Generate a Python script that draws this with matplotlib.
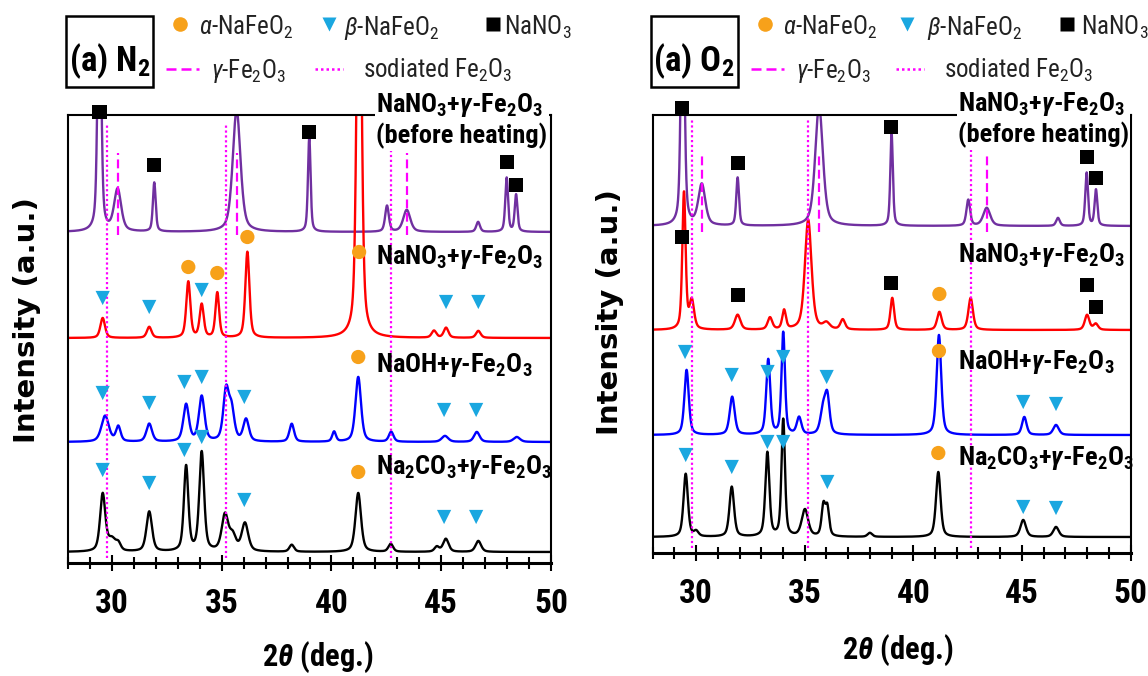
import numpy as np
import matplotlib.pyplot as plt
from matplotlib import font_manager
from matplotlib.patches import Rectangle
from matplotlib.ticker import MultipleLocator

# pick a narrow sans face if one is installed
fonts = font_manager.fontManager.ttflist
names = {f.name for f in fonts}
NARROW, STRETCH = 'Liberation Sans', 'normal'
for n in ['Liberation Sans Narrow', 'DejaVu Sans Condensed', 'Noto Sans Condensed',
          'Roboto Condensed', 'Open Sans Condensed']:
    if n in names:
        NARROW = n
        break
else:
    for n in ['Noto Sans', 'DejaVu Sans', 'Open Sans', 'Roboto']:
        if any(f.name == n and f.stretch == 'condensed' and f.weight in (700, 'bold') for f in fonts):
            NARROW, STRETCH = n, 'condensed'
            break

suffix = ':condensed' if STRETCH == 'condensed' else ''
plt.rcParams['font.family'] = [NARROW, 'DejaVu Sans']
plt.rcParams['font.stretch'] = STRETCH
plt.rcParams['mathtext.fontset'] = 'custom'
plt.rcParams['mathtext.rm'] = NARROW + suffix
plt.rcParams['mathtext.it'] = NARROW + ':italic' + suffix
plt.rcParams['mathtext.bf'] = NARROW + ':bold' + suffix
plt.rcParams['mathtext.bfit'] = NARROW + ':italic:bold' + suffix

# ---- data: peaks (2theta, height, fwhm), a.u. ----
two_theta = np.linspace(28, 50, 4401)

# (a) N2
n2_before = [(29.43, 300, 0.18), (30.26, 42, 0.38), (31.93, 49, 0.15), (35.68, 122, 0.42),
             (38.99, 95, 0.14), (42.53, 26, 0.2), (43.43, 22, 0.38), (46.68, 10, 0.2),
             (47.98, 54, 0.15), (48.41, 37, 0.15)]
n2_nano3 = [(29.58, 20, 0.25), (31.70, 11, 0.25), (33.48, 56, 0.22), (34.09, 33, 0.22),
            (34.80, 45, 0.2), (36.17, 86, 0.22), (41.26, 500, 0.24), (44.67, 7, 0.25),
            (45.22, 10, 0.25), (46.69, 7, 0.25)]
n2_naoh = [(29.69, 26, 0.4), (30.29, 15, 0.25), (31.70, 18, 0.3), (33.38, 37, 0.3),
           (34.09, 45, 0.3), (35.20, 50, 0.3), (35.45, 30, 0.3), (36.11, 22, 0.3),
           (38.19, 18, 0.25), (40.12, 10, 0.2), (41.22, 65, 0.3), (42.72, 10, 0.25),
           (45.17, 6, 0.35), (46.62, 10, 0.3), (48.44, 5, 0.35)]
n2_na2co3 = [(29.58, 57, 0.28), (30.00, 12, 0.45), (30.30, 6, 0.25), (31.70, 40, 0.3),
             (33.38, 85, 0.24), (34.09, 99, 0.26), (35.15, 36, 0.35), (35.50, 15, 0.35),
             (36.06, 28, 0.35), (38.19, 7, 0.25), (41.22, 59, 0.3), (42.70, 8, 0.25),
             (44.80, 5, 0.25), (45.21, 13, 0.3), (46.69, 11, 0.3)]
n2_offsets = [331, 225, 121, 11]

n2_squares = [(29.43, 451), (31.93, 398), (38.99, 431), (47.98, 401), (48.41, 378)]
n2_circles = [(33.48, 296), (34.80, 290), (36.17, 326), (41.26, 311), (41.22, 206), (41.22, 91)]
n2_triangles = [(29.58, 265), (31.70, 256), (34.09, 273), (45.22, 261), (46.69, 261),
                (29.58, 170), (31.70, 160), (33.30, 181), (34.09, 186), (36.03, 166),
                (45.13, 153), (46.59, 153),
                (29.58, 93), (31.70, 80), (33.30, 113), (34.09, 126), (36.03, 63),
                (45.13, 46), (46.59, 46)]
n2_gamma = [30.26, 35.68, 43.43]
n2_sodiated = [29.76, 35.18, 42.70]

# (a) O2
o2_before = [(29.38, 300, 0.18), (30.26, 41, 0.38), (31.91, 48, 0.15), (35.66, 120, 0.42),
             (39.00, 92, 0.14), (42.53, 26, 0.2), (43.38, 18, 0.38), (46.66, 8, 0.2),
             (47.98, 53, 0.15), (48.41, 36, 0.15)]
o2_nano3 = [(29.44, 137, 0.18), (29.80, 28, 0.25), (31.91, 15, 0.3), (33.40, 12, 0.25),
            (34.05, 19, 0.2), (35.16, 110, 0.36), (36.00, 6, 0.35), (36.75, 10, 0.25),
            (39.03, 32, 0.2), (41.20, 18, 0.25), (42.64, 32, 0.25), (48.00, 15, 0.25),
            (48.40, 6, 0.25)]
o2_naoh = [(29.56, 65, 0.24), (31.66, 38, 0.27), (33.32, 75, 0.22), (34.01, 102, 0.19),
           (34.74, 17, 0.25), (35.85, 25, 0.3), (36.04, 35, 0.25), (41.18, 100, 0.25),
           (45.11, 18, 0.25), (46.57, 10, 0.3)]
o2_na2co3 = [(29.52, 63, 0.24), (30.00, 5, 0.25), (31.64, 50, 0.25), (33.28, 84, 0.22),
             (34.01, 117, 0.19), (35.01, 27, 0.35), (35.86, 30, 0.2), (36.04, 28, 0.2),
             (38.00, 4, 0.25), (41.15, 65, 0.25), (45.06, 17, 0.3), (46.57, 10, 0.3)]
o2_offsets = [327, 223, 118, 16]

o2_squares = [(29.34, 445), (31.91, 390), (38.97, 426), (47.98, 396), (48.41, 375),
              (29.34, 316), (31.91, 258), (38.96, 270), (47.98, 268), (48.41, 246)]
o2_circles = [(41.20, 259), (41.18, 202), (41.15, 100)]
o2_triangles = [(29.49, 201), (31.64, 178), (33.29, 181), (34.01, 196), (36.01, 176),
                (45.06, 151), (46.57, 149),
                (29.52, 98), (31.64, 86), (33.28, 111), (34.01, 111), (36.04, 71),
                (45.06, 46), (46.57, 45)]
o2_gamma = [30.28, 35.66, 43.38]
o2_sodiated = [29.80, 35.16, 42.66]

trace_labels = ['NaNO$_\\mathbf{3}$+$\\mathbfit{\\gamma}$-Fe$_\\mathbf{2}$O$_\\mathbf{3}$\n(before heating)',
                'NaNO$_\\mathbf{3}$+$\\mathbfit{\\gamma}$-Fe$_\\mathbf{2}$O$_\\mathbf{3}$',
                'NaOH+$\\mathbfit{\\gamma}$-Fe$_\\mathbf{2}$O$_\\mathbf{3}$',
                'Na$_\\mathbf{2}$CO$_\\mathbf{3}$+$\\mathbfit{\\gamma}$-Fe$_\\mathbf{2}$O$_\\mathbf{3}$']
trace_colors = ['#7030A0', '#FF0000', '#0000FF', '#000000']
ORANGE = '#F7A11A'
CYAN = '#1AA7E0'
MAGENTA = '#FF00FF'

NARROWED = STRETCH == 'condensed' or NARROW != 'Liberation Sans'
fs_trace = 19 if NARROWED else 16
fs_tick = 24 if NARROWED else 20
fs_leg = 18 if NARROWED else 15
fs_box = 25 if NARROWED else 21


def pattern(offset, peaks):
    y = np.full_like(two_theta, float(offset))
    for c, h, w in peaks:
        d = (two_theta - c) / w
        y += h * (0.5 * np.exp(-4 * np.log(2) * d ** 2) + 0.5 / (1 + 4 * d ** 2))
    return y


def draw_panel(ax, traces, offsets, squares, circles, triangles, gamma, gamma_span,
               sodiated, sod_span, label_ys, top):
    for peaks, off, col in zip(traces, offsets, trace_colors):
        ax.plot(two_theta, pattern(off, peaks), color=col, lw=1.7, zorder=2)
    ax.vlines(gamma, gamma_span[0], gamma_span[1], colors=MAGENTA, linestyles=(0, (4, 2)),
              lw=1.6, zorder=3)
    ax.vlines(sodiated, sod_span[0], sod_span[1], colors=MAGENTA, linestyles=(0, (1, 1.2)),
              lw=1.6, zorder=3)
    for pts, m, c in [(squares, 's', 'black'), (circles, 'o', ORANGE), (triangles, 'v', CYAN)]:
        xs, ys = zip(*pts)
        ax.scatter(xs, ys, marker=m, s=105, color=c, edgecolors='none', zorder=5, clip_on=False)
    for i, (lab, ly) in enumerate(zip(trace_labels, label_ys)):
        kw = dict(fontsize=fs_trace, fontweight='bold', ha='left', va='center', zorder=6,
                  clip_on=False)
        if i == 0:
            kw['bbox'] = dict(fc='white', ec='none', pad=1)
        ax.text(42.05, ly, lab, **kw)
    ax.set_xlim(28, 50)
    ax.set_ylim(0, top)
    ax.set_xticks([30, 35, 40, 45, 50])
    ax.xaxis.set_minor_locator(MultipleLocator(1))
    ax.tick_params(axis='x', which='major', direction='inout', length=12, width=1.5,
                   labelsize=fs_tick, pad=12)
    ax.tick_params(axis='x', which='minor', direction='inout', length=9, width=1.5)
    ax.set_yticks([])
    for lab in ax.get_xticklabels():
        lab.set_fontweight('bold')
    for s in ['left', 'right', 'top']:
        ax.spines[s].set_linewidth(1.5)
    ax.spines['bottom'].set_linewidth(2.2)


W, H = 1148, 676
fig = plt.figure(figsize=(W / 100, H / 100), dpi=100)

ax1 = fig.add_axes([68 / W, 1 - 563 / H, 483 / W, 448 / H])
ax2 = fig.add_axes([652.7 / W, 1 - 553 / H, 477.8 / W, 438 / H])

draw_panel(ax1, [n2_before, n2_nano3, n2_naoh, n2_na2co3], n2_offsets,
           n2_squares, n2_circles, n2_triangles, n2_gamma, (328, 410),
           n2_sodiated, (5, 440), [443, 306, 198, 96], 448)
draw_panel(ax2, [o2_before, o2_nano3, o2_naoh, o2_na2co3], o2_offsets,
           o2_squares, o2_circles, o2_triangles, o2_gamma, (321, 400),
           o2_sodiated, (5, 435), [434, 298, 191, 95], 438)

# overlay in pixel coordinates for the legends and axis titles
ov = fig.add_axes([0, 0, 1, 1])
ov.set_xlim(0, W)
ov.set_ylim(H, 0)
ov.axis('off')


def legend_block(x0, panel, xs):
    # x0: pixel x of panel left spine; xs: key / text x offsets
    ov.add_patch(Rectangle((x0 - 2, 16), 87, 71, fc='white', ec='black', lw=1.8))
    ov.text(x0 + 41.5, 71, '(a) ' + panel, fontsize=fs_box, fontweight='bold',
            ha='center', va='baseline')
    lc = '#222222'
    ov.plot([x0 + xs[0]], [24], 'o', ms=10.5, color=ORANGE, mec='none')
    ov.text(x0 + xs[1], 35, '$\\mathit{\\alpha}$-NaFeO$_2$', fontsize=fs_leg, color=lc, va='baseline')
    ov.plot([x0 + xs[2]], [24], 'v', ms=10.5, color=CYAN, mec='none')
    ov.text(x0 + xs[3], 35, '$\\mathit{\\beta}$-NaFeO$_2$', fontsize=fs_leg, color=lc, va='baseline')
    ov.plot([x0 + xs[4]], [24], 's', ms=10, color='black', mec='none')
    ov.text(x0 + xs[5], 35, 'NaNO$_3$', fontsize=fs_leg, color=lc, va='baseline')
    ov.plot([x0 + 98, x0 + 131], [69, 69], color=MAGENTA, lw=1.8, ls=(0, (4, 2)))
    ov.text(x0 + 143, 78, '$\\mathit{\\gamma}$-Fe$_2$O$_3$', fontsize=fs_leg, color=lc, va='baseline')
    ov.plot([x0 + xs[6], x0 + xs[6] + 28], [69, 69], color=MAGENTA, lw=1.8, ls=(0, (1, 1.2)))
    ov.text(x0 + xs[7], 78, 'sodiated Fe$_2$O$_3$', fontsize=fs_leg, color=lc, va='baseline')


legend_block(68, 'N$_\\mathbf{2}$', [111.5, 131, 260.6, 276, 424.7, 435.7, 247, 294.6])
legend_block(652.7, 'O$_\\mathbf{2}$', [111.8, 130.3, 254.3, 274.3, 414, 428.3, 243.3, 291.3])

for x, y in [(27, 320), (610, 312)]:
    ov.text(x, y, 'Intensity (a.u.)', rotation=90, fontsize=21, fontweight='bold',
            family='DejaVu Sans', stretch='normal', ha='center', va='center')
for x, y in [(318, 657), (898, 650)]:
    ov.text(x, y, '2$\\mathbfit{\\theta}$ (deg.)', fontsize=22, fontweight='bold',
            ha='center', va='center')

fig.savefig('out.png', dpi=100)
